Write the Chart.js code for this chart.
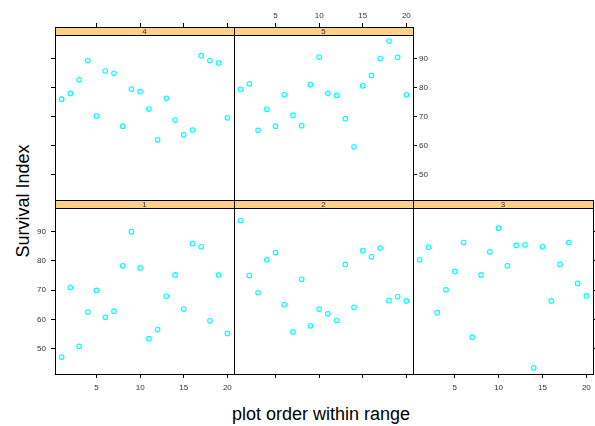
<!DOCTYPE html>
<html>
<head>
<meta charset="utf-8">
<script src="https://cdn.jsdelivr.net/npm/chart.js@4.4.1/dist/chart.umd.min.js"></script>
<style>
  body { margin: 0; background: #fff; width: 595px; height: 426px; position: relative; overflow: hidden;
         font-family: "Liberation Sans", Arial, sans-serif; }
  canvas { position: absolute; }
  .lab { position: absolute; font-size: 18px; line-height: 18px; color: #000; white-space: nowrap; }
  #xlab { left: 232px; top: 405px; }
  #ylab { left: 23px; top: 201px; transform: translate(-50%, -50%) rotate(-90deg); }
</style>
</head>
<body>
<div class="lab" id="xlab">plot order within range</div>
<div class="lab" id="ylab">Survival Index</div>
<script>
// data
const plotOrder = [1, 2, 3, 4, 5, 6, 7, 8, 9, 10, 11, 12, 13, 14, 15, 16, 17, 18, 19, 20];
const range1 = [47.1, 70.9, 50.8, 62.5, 69.9, 60.7, 62.8, 78.3, 90.0, 77.6, 53.4, 56.5, 67.9, 75.2, 63.5, 85.9, 84.8, 59.5, 75.2, 55.2];
const range2 = [93.8, 75.0, 69.1, 80.4, 82.8, 65.0, 55.7, 73.7, 57.8, 63.5, 61.9, 59.6, 78.8, 64.1, 83.5, 81.4, 84.4, 66.4, 67.8, 66.3];
const range3 = [80.4, 84.7, 62.3, 70.1, 76.4, 86.3, 53.9, 75.2, 83.1, 91.2, 78.3, 85.3, 85.5, 43.4, 84.8, 66.3, 78.8, 86.3, 72.3, 68.0];
const range4 = [76.0, 78.0, 82.7, 89.3, 70.2, 85.7, 84.9, 66.7, 79.5, 78.6, 72.6, 62.0, 76.3, 68.8, 63.7, 65.4, 91.0, 89.3, 88.5, 69.6];
const range5 = [79.4, 81.3, 65.3, 72.5, 66.7, 77.5, 70.5, 66.9, 81.0, 90.5, 78.0, 77.3, 69.3, 59.6, 80.6, 84.2, 90.0, 96.0, 90.4, 77.5];
const xTicks = [5, 10, 15, 20];
const yTicks = [50, 60, 70, 80, 90];

const FONT = '"Liberation Sans", Arial, sans-serif';
const M = 30;          // room around each panel for axes
const STRIP = 8;       // strip height in px
const cols = [55, 234, 413, 593];
const rows = [[27, 200], [200, 374]];
const xMin = 0.24, xMax = 20.76;
const yMin = 41.3, yTopData = 98.1;

const panels = [
  { name: '4', vals: range4, col: 0, row: 0, top: 'ticks', left: 'ticks' },
  { name: '5', vals: range5, col: 1, row: 0, top: 'labels', right: 'labels' },
  { name: '1', vals: range1, col: 0, row: 1, bottom: 'labels', left: 'labels' },
  { name: '2', vals: range2, col: 1, row: 1, bottom: 'ticks' },
  { name: '3', vals: range3, col: 2, row: 1, bottom: 'labels', right: 'ticks' },
];

const stripPlugin = {
  id: 'strip',
  afterDraw(chart, args, opts) {
    const { ctx, chartArea: a } = chart;
    ctx.save();
    ctx.fillStyle = '#ffd08a';
    ctx.fillRect(a.left, a.top, a.right - a.left, STRIP);
    ctx.strokeStyle = '#000';
    ctx.lineWidth = 1;
    ctx.strokeRect(a.left + 0.5, a.top + 0.5, a.right - a.left, STRIP);
    ctx.fillStyle = '#333';
    ctx.font = '8px ' + FONT;
    ctx.textAlign = 'center';
    ctx.textBaseline = 'middle';
    ctx.fillText(opts.label, (a.left + a.right) / 2, a.top + STRIP / 2 + 1);
    ctx.strokeRect(a.left + 0.5, a.top + 0.5, a.right - a.left, a.bottom - a.top);
    ctx.restore();
  }
};

function axis(axisName, pos, mode, min, max, tickVals, pad) {
  return {
    type: 'linear',
    axis: axisName,
    position: pos,
    min: min,
    max: max,
    afterBuildTicks: s => { s.ticks = tickVals.map(v => ({ value: v })); },
    afterFit: s => { if (axisName === 'x') s.height = M; else s.width = M; },
    grid: {
      display: !!mode,
      drawOnChartArea: false,
      drawTicks: true,
      tickLength: 4,
      color: '#000',
      lineWidth: 1
    },
    border: { display: false },
    ticks: {
      display: mode === 'labels',
      font: { size: 8, family: FONT },
      color: '#333',
      padding: pad,
      maxRotation: 0,
      autoSkip: false
    }
  };
}

panels.forEach(p => {
  const left = cols[p.col], right = cols[p.col + 1];
  const [top, bottom] = rows[p.row];
  const h = bottom - top;
  // stretch the y range so the top STRIP px of the area hold the strip
  const yMax = (yTopData * h - yMin * STRIP) / (h - STRIP);

  const cv = document.createElement('canvas');
  cv.width = right - left + 2 * M;
  cv.height = h + 2 * M;
  cv.style.left = (left - M) + 'px';
  cv.style.top = (top - M) + 'px';
  document.body.appendChild(cv);

  new Chart(cv.getContext('2d'), {
    type: 'scatter',
    data: {
      datasets: [{
        data: plotOrder.map((x, i) => ({ x: x, y: p.vals[i] })),
        pointStyle: 'circle',
        pointRadius: 2.3,
        pointHoverRadius: 2.3,
        borderWidth: 1.1,
        borderColor: '#00ffff',
        hoverBorderColor: '#00ffff',
        backgroundColor: 'rgba(0,0,0,0)'
      }]
    },
    options: {
      responsive: false,
      animation: false,
      events: [],
      layout: { padding: 0 },
      plugins: {
        legend: { display: false },
        tooltip: { enabled: false },
        strip: { label: p.name }
      },
      scales: {
        x: axis('x', 'bottom', p.bottom, xMin, xMax, xTicks, 5),
        xt: axis('x', 'top', p.top, xMin, xMax, xTicks, 2),
        y: axis('y', 'left', p.left, yMin, yMax, yTicks, 5),
        yr: axis('y', 'right', p.right, yMin, yMax, yTicks, 2)
      }
    },
    plugins: [stripPlugin]
  });
});
</script>
</body>
</html>
